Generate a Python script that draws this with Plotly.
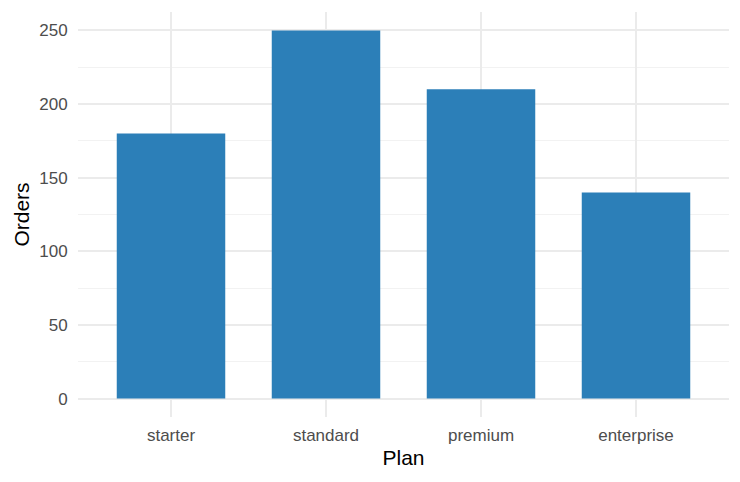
import plotly.graph_objects as go

# order counts per plan
plans = ["starter", "standard", "premium", "enterprise"]
orders = [180, 250, 210, 140]
y_ticks = [0, 50, 100, 150, 200, 250]
y_minor = [25, 75, 125, 175, 225]

bars = go.Bar(
    x=plans,
    y=orders,
    width=0.7,
    marker=dict(color="#2C7FB8", line=dict(width=0)),
)

# page body adds an 8px offset, margins account for it
layout = go.Layout(
    width=740,
    height=482,
    paper_bgcolor="white",
    plot_bgcolor="white",
    margin=dict(l=70, r=19, t=4, b=73),
    font=dict(family="Liberation Sans, Arial, sans-serif", size=17, color="#4D4D4D"),
    showlegend=False,
    xaxis=dict(
        title=dict(text="Plan", font=dict(size=21, color="black"), standoff=5),
        range=[-0.6, 3.6],
        showgrid=True,
        gridcolor="#EBEBEB",
        gridwidth=1.5,
        zeroline=False,
        showline=False,
        ticks="outside",
        ticklen=3,
        tickcolor="rgba(0,0,0,0)",
    ),
    yaxis=dict(
        title=dict(text="Orders", font=dict(size=21, color="black"), standoff=3),
        range=[-12.5, 262.5],
        tickvals=y_ticks,
        showgrid=True,
        gridcolor="#EBEBEB",
        gridwidth=1.5,
        zeroline=False,
        showline=False,
        ticks="outside",
        ticklen=6,
        tickcolor="rgba(0,0,0,0)",
        minor=dict(tickvals=y_minor, showgrid=True,
                   gridcolor="#F2F2F2", gridwidth=0.8),
    ),
)

fig = go.Figure(data=[bars], layout=layout)
fig.write_html("out.html")
